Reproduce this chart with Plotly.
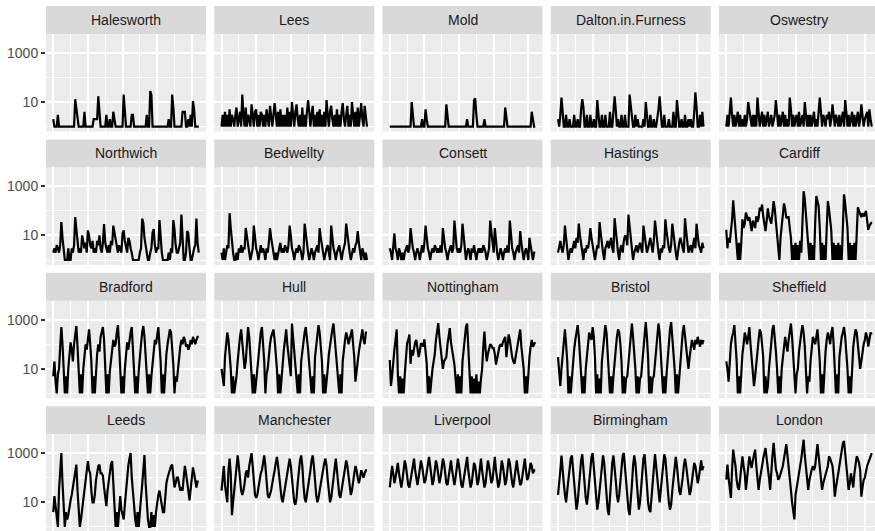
import plotly.graph_objects as go

# ---- data: displayed values (cases, minimum 1), 6 samples per year, 1945 -> 1966 ----
START_YEAR = 1945
PER_YEAR = 6

halesworth = [
 2,1,1,1,3,1, 1,1,1,1,1,1, 1,1,1,1,1,1, 1,13,5,3,1,1, 1,1,1,4,1,1, 1,1,1,1,1,2,
 2,2,2,17,4,1, 1,1,1,1,3,1, 1,2,1,1,4,2, 1,1,1,1,1,1, 1,20,4,1,1,1, 1,1,3,3,1,1,
 1,1,1,1,1,1, 1,1,1,3,1,1, 28,20,1,1,1,1, 1,1,1,1,1,1, 1,1,1,1,2,1, 1,20,6,1,1,1,
 1,1,1,1,4,4, 4,1,1,2,1,3, 1,11,5,1,1,1, 1]
lees = [
 1,3,1,4,1,3, 1,5,1,3,2,1, 3,6,1,2,4,1, 20,3,1,6,1,3, 2,1,8,3,1,4, 5,1,3,1,4,3,
 1,3,1,5,2,1, 7,2,1,3,9,3, 1,4,1,5,1,3, 1,3,1,6,1,4, 1,10,3,1,4,8, 2,1,3,1,6,1,
 3,1,4,12,4,1, 3,7,1,3,1,4, 1,5,1,3,1,4, 1,12,3,1,4,7, 2,1,3,1,5,1, 3,1,4,9,2,1,
 3,7,1,3,1,10, 3,1,4,1,6,1, 3,9,2,1,7,2, 1]
mold = [
 1,1,1,1,1,1, 1,1,1,1,1,1, 1,1,1,1,1,1, 1,10,3,1,1,1, 1,1,1,1,2,1, 1,5,2,1,1,1,
 1,1,1,1,1,1, 1,1,1,1,1,1, 1,8,3,1,1,1, 1,1,1,1,1,1, 1,1,1,1,1,1, 1,2,1,1,1,1,
 1,12,14,3,1,1, 1,1,1,1,2,1, 1,1,1,1,1,1, 1,1,1,1,1,1, 1,1,1,1,6,3, 1,1,1,1,1,1,
 1,1,1,1,1,1, 1,1,1,1,1,1, 1,1,1,4,2,1, 1]
dalton = [
 2,1,3,15,4,1, 1,3,1,1,2,1, 1,1,3,1,1,2, 1,1,5,13,6,1, 1,3,1,1,3,1, 1,2,1,1,12,4,
 1,1,3,1,1,3, 1,1,1,4,1,1, 3,17,5,1,2,1, 1,3,1,1,3,1, 1,1,20,6,2,1, 1,3,1,2,1,1,
 1,1,2,1,10,3, 1,1,3,1,1,2, 1,1,2,5,17,3, 1,1,3,1,1,1, 2,1,1,1,4,1, 1,12,4,1,1,2,
 1,1,3,1,1,2, 1,2,1,1,4,25, 6,1,1,3,1,4, 1]
oswestry = [
 1,3,1,4,15,3, 1,3,1,2,4,1, 3,1,2,1,3,1, 2,10,4,2,1,3, 1,3,1,15,5,1, 2,4,1,3,1,2,
 4,1,2,3,1,2, 3,12,4,1,3,1, 2,4,1,3,1,2, 1,15,5,1,3,1, 2,3,1,4,1,2, 3,1,10,3,1,3,
 1,3,1,2,4,1, 2,1,3,15,4,1, 3,2,1,3,2,4, 1,2,8,3,1,3, 2,1,3,1,2,4, 1,12,4,1,3,1,
 2,4,1,3,1,2, 4,1,2,8,3,1, 2,3,4,1,5,2, 1]
northwich = [
 2,3,2,4,3,2, 4,35,8,3,1,1, 1,3,1,1,3,2, 4,55,15,4,2,3, 2,10,6,3,5,2, 16,10,4,3,6,2,
 3,2,6,4,10,3, 2,5,29,5,3,2, 4,2,6,4,25,12, 6,3,2,4,3,2, 12,16,6,3,2,8, 6,3,2,1,1,1,
 1,1,1,2,3,48, 33,8,3,2,1,1, 2,3,13,18,4,2, 3,3,42,6,2,1, 1,1,1,1,2,1, 3,2,42,18,4,2,
 2,3,5,70,4,1, 1,2,15,12,3,1, 1,2,3,4,48,5, 2]
bedwellty = [
 2,1,3,1,2,4, 3,80,20,4,2,1, 1,2,1,3,2,4, 2,3,3,20,8,3, 2,1,2,3,25,6, 3,2,1,2,4,2,
 3,2,1,3,2,5, 20,8,3,2,1,2, 1,2,3,5,2,3, 2,4,3,2,4,25, 10,3,2,1,2,3, 2,4,3,2,1,2,
 30,10,4,2,1,2, 3,2,1,2,3,4, 2,20,8,3,2,1, 2,3,4,2,1,25, 8,3,2,1,2,3, 4,2,1,2,3,5,
 30,10,3,2,1,2, 3,2,4,5,15,5, 2,1,3,2,1,2, 1]
consett = [
 3,2,1,4,12,3, 2,1,3,2,1,2, 1,2,3,4,2,3, 20,6,3,2,1,2, 3,2,1,2,4,2, 5,25,8,3,2,1,
 2,3,2,4,3,2, 3,2,4,2,20,6, 3,2,1,2,3,4, 2,3,40,10,3,2, 3,2,4,30,8,2, 1,2,3,2,1,3,
 2,4,2,1,2,3, 2,3,2,4,3,2, 1,2,3,40,15,4, 2,20,5,2,1,2, 3,2,1,2,3,2, 4,2,40,12,3,2,
 1,2,3,4,2,15, 5,2,1,2,3,2, 1,8,3,2,1,2, 2]
hastings = [
 2,4,6,3,2,4, 25,8,3,1,2,3, 2,4,6,3,8,5, 30,10,4,2,1,3, 2,4,3,6,20,8, 3,2,1,2,4,3,
 35,12,4,2,1,3, 4,6,3,5,8,3, 2,50,15,5,2,1, 3,4,2,6,10,8, 4,70,25,6,2,1, 2,3,4,2,3,5,
 3,2,25,10,4,2, 3,5,8,4,2,6, 40,15,4,2,1,3, 2,4,3,45,15,5, 3,2,4,30,10,3, 2,1,3,5,8,4,
 3,2,50,15,5,2, 3,4,2,5,8,3, 30,10,4,3,2,5, 3]
cardiff = [
 17,3,8,5,15,40, 270,60,25,6,1,5, 1,5,45,20,30,85, 60,40,55,25,15,40, 30,20,60,35,50,135,
 100,180,60,30,15,40, 125,60,45,30,80,250, 120,40,17,6,1,8, 25,60,200,120,50,55,
 55,20,8,1,4,1, 5,1,4,1,6,2, 40,630,300,80,20,8, 1,5,1,4,1,30, 400,250,150,20,1,5,
 1,4,1,20,250,120, 45,15,1,5,1,4, 1,5,1,4,1,15, 470,200,80,20,1,5, 1,4,1,5,1,20,
 140,100,80,55,80,60, 70,100,40,17,25,30, 35]
bradford = [
 5,20,3,1,6,10, 80,500,100,10,1,5, 1,10,40,120,60,20, 100,200,550,80,10,1, 6,1,10,30,100,60,
 200,400,100,20,1,5, 1,8,40,100,50,200, 350,500,150,20,1,6, 1,8,20,60,150,80,
 100,300,600,100,10,1, 5,1,10,50,120,60, 150,300,500,80,8,1, 5,1,8,40,100,300,
 550,200,30,5,1,6, 1,5,20,80,150,100, 300,500,100,20,1,6, 1,10,40,100,200,400,
 300,80,15,1,5,3, 10,30,80,150,100,200, 150,80,100,60,80,150, 100,200,150,100,150,200, 200]
hull = [
 10,5,2,30,80,300, 150,40,10,1,5,1, 2,5,20,80,200,400, 100,30,10,20,150,500, 200,40,10,1,6,1,
 3,10,50,150,300,500, 100,20,1,6,10,40, 100,200,300,400,150,50, 10,1,6,1,5,20,
 60,150,400,100,30,10, 5,700,200,50,10,3, 1,6,1,20,60,100, 300,500,200,60,15,3,
 1,5,1,30,100,200, 600,300,80,20,1,6, 1,5,10,40,100,150, 400,700,200,50,10,3,
 1,6,1,20,80,150, 300,200,100,150,250,400, 100,30,3,12,20,50, 100,200,400,150,100,300, 300]
nottingham = [
 23,2,5,23,60,150, 400,6,1,5,1,4, 1,6,20,110,150,250, 16,60,35,80,120,150, 60,30,50,110,100,80,
 160,40,16,1,5,1, 5,10,20,40,150,400, 720,200,80,20,10,20, 25,30,100,250,450,120,
 55,25,15,4,1,6, 1,5,1,20,60,200, 500,700,80,20,1,5, 1,4,1,6,1,3,
 1,4,10,80,330,60, 20,40,60,100,90,70, 70,40,15,30,60,80, 100,80,120,150,200,30,
 80,250,150,60,30,20, 16,30,55,100,200,400, 80,30,10,1,5,1, 10,30,80,150,80,100, 120]
bristol = [
 30,5,2,10,40,150, 400,100,20,1,5,1, 5,20,60,150,300,600, 200,40,8,1,5,1, 10,40,100,300,200,150,
 500,200,30,1,6,1, 4,1,20,80,200,600, 300,60,10,1,5,1, 5,20,60,200,400,300,
 100,20,1,5,1,4, 5,20,100,300,700,200, 50,10,1,5,1,4, 5,20,100,400,800,200,
 30,1,5,1,4,5, 20,80,300,700,300,60, 10,1,5,1,6,30, 100,400,800,200,50,10,
 1,6,1,5,20,80, 300,600,200,60,20,10, 30,80,150,100,60,150, 100,200,120,80,150,100, 150]
sheffield = [
 20,10,3,40,100,200, 300,600,100,20,1,5, 1,10,40,100,300,200, 100,200,500,100,20,5, 2,5,20,60,150,400,
 300,100,30,1,5,1, 2,10,40,150,400,600, 200,50,10,1,5,1, 10,30,80,200,100,50,
 150,400,700,200,30,5, 1,6,10,50,150,300, 600,300,80,10,1,5, 3,20,80,200,150,100,
 200,400,100,20,1,6, 1,10,50,150,300,200, 100,300,500,100,10,1, 6,1,30,100,200,300,
 500,200,50,10,1,5, 1,20,80,200,400,300, 100,30,10,20,50,100, 150,300,200,80,150,300, 250]
leeds = [
 4,18,7,2,1,32, 150,1000,60,10,1,4, 2,3,7,12,20,40, 100,200,340,30,5,1, 2,5,10,40,100,250,
 470,200,150,30,10,10, 20,80,200,300,340,150, 150,120,40,15,7,30, 80,200,350,470,30,8,
 1,4,1,5,18,5, 3,2,8,30,100,300, 600,1000,100,30,5,2, 1,4,1,7,15,50,
 200,830,60,10,2,1, 1,4,1,3,1,4, 10,20,30,15,8,4, 4,20,60,100,150,220,
 300,340,100,40,60,100, 100,50,30,40,30,100, 300,150,50,30,12,40, 100,260,150,60,40,70, 70]
manchester = [
 30,100,300,50,20,10, 200,600,150,3,10,30, 100,400,800,300,60,30, 20,30,60,150,200,100,
 300,600,1000,300,50,20, 15,20,40,80,150,200, 400,800,300,60,20,15, 20,30,60,100,200,400,
 700,300,100,30,15,10, 20,40,100,200,400,600, 300,100,30,10,8,15, 60,200,500,800,300,50,
 15,10,20,50,100,200, 500,800,300,60,20,10, 15,30,60,120,200,400, 600,300,80,20,10,15,
 40,100,300,600,200,60, 20,15,30,80,150,300, 500,300,100,40,20,30, 80,150,300,200,100,60,
 100,200,150,100,150,200, 200]
liverpool = [
 40,100,300,150,60,100, 200,400,150,60,40,80, 200,500,300,100,50,40, 80,200,400,600,200,80,
 50,100,300,500,300,100, 60,80,200,400,700,300, 100,50,80,200,500,300, 100,60,100,300,600,400,
 150,60,50,100,300,500, 200,80,50,100,300,600, 300,100,50,40,80,200, 500,700,200,80,40,60,
 150,400,300,100,50,80, 300,600,200,80,40,60, 200,500,300,100,60,80, 300,700,200,80,40,60,
 200,500,300,100,50,80, 300,600,400,150,60,40, 100,300,500,200,80,50, 60,150,400,600,200,80,
 100,200,400,300,150,200, 200]
birmingham = [
 20,50,200,800,300,60, 20,10,30,100,300,600, 800,200,40,10,5,10, 40,150,500,900,300,60,
 15,8,20,80,300,700, 1000,300,60,15,5,10, 30,100,400,800,400,80, 20,5,3,20,100,400,
 800,300,80,20,10,20, 80,300,800,1000,300,60, 15,5,3,10,50,300, 800,400,100,20,5,10,
 50,200,600,900,300,50, 10,5,4,15,80,400, 900,300,80,20,10,30, 100,400,900,600,150,30,
 10,5,8,30,100,400, 700,300,80,30,20,40, 100,300,600,300,100,40, 20,30,80,200,400,300,
 150,60,100,300,500,200, 300]
london = [
 83,340,100,40,15,200, 1380,600,300,80,40,32, 100,210,740,300,150,32, 100,300,740,400,250,500,
 800,1380,300,100,32,80, 210,300,600,1000,1600,600, 300,100,32,300,800,2600, 600,220,150,83,100,150,
 200,300,600,1000,2300,800, 300,150,32,10,5,2, 20,40,80,150,210,600, 1500,3500,800,300,100,32,
 80,150,210,300,200,300, 800,2300,800,250,80,32, 60,100,150,200,300,740, 600,400,300,100,17,40,
 100,150,300,600,1500,2500, 3100,1000,300,100,32,60, 150,80,40,150,400,740, 600,400,200,17,40,80,
 100,210,300,400,600,740, 1000]

town_names = ["Halesworth", "Lees", "Mold", "Dalton.in.Furness", "Oswestry",
              "Northwich", "Bedwellty", "Consett", "Hastings", "Cardiff",
              "Bradford", "Hull", "Nottingham", "Bristol", "Sheffield",
              "Leeds", "Manchester", "Liverpool", "Birmingham", "London"]
town_values = [halesworth, lees, mold, dalton, oswestry,
               northwich, bedwellty, consett, hastings, cardiff,
               bradford, hull, nottingham, bristol, sheffield,
               leeds, manchester, liverpool, birmingham, london]

x_major = [1945, 1950, 1955, 1960, 1965]
x_minor = [1947.5, 1952.5, 1957.5, 1962.5]
y_major = [10, 1000]
y_major_text = ["10", "1000"]
y_minor = [1, 100]

# ---- layout geometry (pixels) ----
W, H = 875, 531
PANEL_W, PANEL_H, STRIP_H = 160.0, 97.5, 28.0
COL_STEP, ROW_STEP = 168.25, 133.43
LEFT0, TOP0 = 46.0, 34.0
XR = (1943.95, 1967.05)
YR = (-0.2, 3.765)

FONT = "Liberation Sans, Arial, Helvetica, sans-serif"

fig = go.Figure()
shapes, annotations = [], []

for k, (name, vals) in enumerate(zip(town_names, town_values)):
    r, c = divmod(k, 5)
    sfx = "" if k == 0 else str(k + 1)
    left = LEFT0 + c * COL_STEP
    right = left + PANEL_W
    top = TOP0 + r * ROW_STEP
    bottom = top + PANEL_H
    xr = list(XR)
    yr = list(YR)
    if right > W:
        xr[1] = XR[0] + (W - left) / PANEL_W * (XR[1] - XR[0])
        right = W
    if bottom > H:
        yr[0] = YR[1] - (H - top) / PANEL_H * (YR[1] - YR[0])
        bottom = H

    t = [START_YEAR + i / PER_YEAR for i in range(len(vals))]
    fig.add_trace(go.Scatter(x=t, y=vals, mode="lines",
                             line=dict(color="black", width=2.2),
                             xaxis="x" + sfx, yaxis="y" + sfx,
                             showlegend=False, hoverinfo="skip"))

    fig.layout["xaxis" + sfx] = dict(
        domain=[left / W, right / W], range=xr, anchor="y" + sfx,
        showticklabels=False, ticks="", tickmode="array", tickvals=x_major,
        showgrid=True, gridcolor="white", gridwidth=2.2,
        minor=dict(tickmode="array", tickvals=x_minor, showgrid=True,
                   gridcolor="white", gridwidth=1.1, ticks=""),
        zeroline=False, showline=False, fixedrange=True)
    fig.layout["yaxis" + sfx] = dict(
        type="log", domain=[1 - bottom / H, 1 - top / H], range=yr, anchor="x" + sfx,
        tickmode="array", tickvals=y_major, ticktext=y_major_text,
        showticklabels=(c == 0), ticks=("outside" if c == 0 else ""),
        ticklen=4, tickwidth=2, tickcolor="#333333",
        tickfont=dict(family=FONT, size=14, color="#4D4D4D"),
        showgrid=True, gridcolor="white", gridwidth=2.2,
        minor=dict(tickmode="array", tickvals=y_minor, showgrid=True,
                   gridcolor="white", gridwidth=1.1, ticks=""),
        zeroline=False, showline=False, fixedrange=True)

    # facet strip
    shapes.append(dict(type="rect", xref="paper", yref="paper",
                       x0=left / W, x1=min(left + PANEL_W, W) / W,
                       y0=1 - top / H, y1=1 - (top - STRIP_H) / H,
                       fillcolor="#D9D9D9", line=dict(width=0), layer="below"))
    annotations.append(dict(text=name, xref="paper", yref="paper",
                            x=(left + PANEL_W / 2) / W, y=1 - (top - STRIP_H / 2) / H,
                            xanchor="center", yanchor="middle", showarrow=False,
                            font=dict(family=FONT, size=14, color="#1A1A1A")))

fig.update_layout(width=W, height=H, autosize=False,
                  margin=dict(l=0, r=0, t=0, b=0, autoexpand=False),
                  paper_bgcolor="white", plot_bgcolor="#EBEBEB",
                  shapes=shapes, annotations=annotations,
                  font=dict(family=FONT))

fig.write_html("out.html", config={"displayModeBar": False},
               post_script="document.body.style.margin='0';document.body.style.overflow='hidden';")
